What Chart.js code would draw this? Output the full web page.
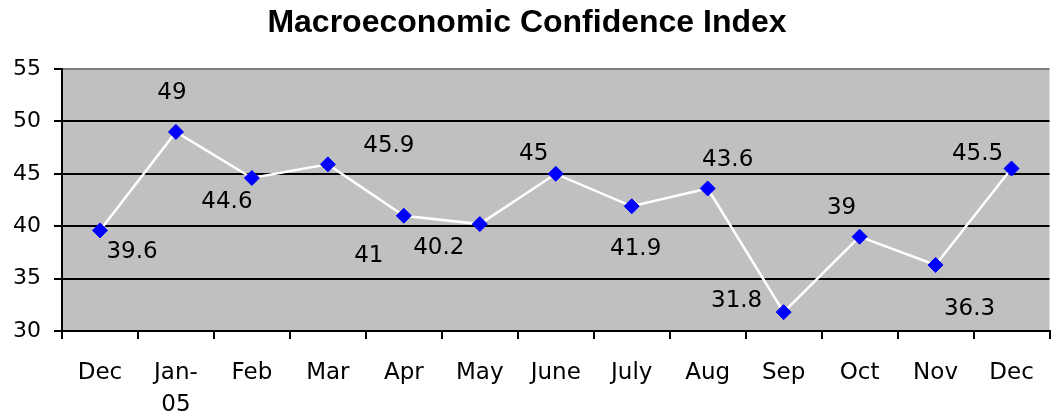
<!DOCTYPE html>
<html><head><meta charset="utf-8">
<script src="https://cdn.jsdelivr.net/npm/chart.js@4.4.0/dist/chart.umd.min.js"></script>
<style>html,body{margin:0;padding:0;background:#fff;overflow:hidden}#wrap{width:1051px;height:419px;overflow:hidden}</style>
</head><body><div id="wrap"><canvas id="c" width="1058" height="419"></canvas></div>
<script>
const chartTitle = 'Macroeconomic Confidence Index';
const categories = ['Dec', ['Jan-', '05'], 'Feb', 'Mar', 'Apr', 'May', 'June', 'July', 'Aug', 'Sep', 'Oct', 'Nov', 'Dec'];
const confidenceValues = [39.6, 49, 44.6, 45.9, 41, 40.2, 45, 41.9, 43.6, 31.8, 39, 36.3, 45.5];
const yMin = 30, yMax = 55, yStep = 5;
// pixel offsets of each hand-placed data label relative to its point
const labelOffsets = [[32,21],[-4,-40],[-25,23],[61,-19],[-35,39],[-41,23],[-22,-21],[4,42],[20,-29],[-47,-12],[-18,-30],[34,43],[-34,-16]];

const FONT = 'DejaVu Sans';

const bgPlugin = {
  id: 'bg',
  beforeDraw(chart) {
    const {ctx, chartArea: a} = chart;
    ctx.save();
    ctx.fillStyle = '#C0C0C0';
    ctx.fillRect(a.left, a.top, a.right - a.left, a.bottom - a.top);
    ctx.restore();
  },
  afterDraw(chart) {
    const ctx = chart.ctx;
    ctx.save();
    ctx.fillStyle = '#000';
    ctx.font = 'bold 32px "Liberation Sans", Arial, sans-serif';
    ctx.textAlign = 'center';
    ctx.textBaseline = 'alphabetic';
    ctx.fillText(chartTitle, 527, 32);
    const meta = chart.getDatasetMeta(0);
    ctx.font = '23px "' + FONT + '"';
    ctx.textBaseline = 'middle';
    meta.data.forEach((pt, i) => {
      const o = labelOffsets[i];
      ctx.fillText(String(confidenceValues[i]), pt.x + o[0], pt.y + o[1] + 1);
    });
    ctx.restore();
  }
};

new Chart(document.getElementById('c'), {
  type: 'line',
  data: {
    labels: categories,
    datasets: [{
      data: confidenceValues,
      borderColor: '#FFFFFF',
      borderWidth: 2.5,
      pointStyle: 'rectRot',
      pointRadius: 7.5,
      pointBackgroundColor: '#0000FF',
      pointBorderColor: '#0000FF',
      pointBorderWidth: 1,
      tension: 0,
      clip: 10
    }]
  },
  options: {
    responsive: false,
    animation: false,
    devicePixelRatio: 1,
    layout: {padding: {top: 69, left: 0, right: 0, bottom: 0}},
    plugins: {legend: {display: false}, tooltip: {enabled: false}, title: {display: false}},
    scales: {
      x: {
        type: 'category',
        offset: true,
        afterFit(s) { s.height = 88; },
        grid: {offset: true, drawOnChartArea: false, color: '#000', lineWidth: 2, tickLength: 8},
        border: {display: true, color: '#000', width: 2},
        ticks: {color: '#000', font: {family: FONT, size: 23, lineHeight: 1.38}, padding: 18, maxRotation: 0, autoSkip: false}
      },
      y: {
        min: yMin, max: yMax,
        afterFit(s) { s.width = 62; },
        grid: {color: c => (c.tick && c.tick.value === yMax) ? '#808080' : '#000', lineWidth: 2, tickLength: 8, tickColor: '#000'},
        border: {display: true, color: '#000', width: 2},
        ticks: {stepSize: yStep, color: '#000', font: {family: FONT, size: 22}, padding: 13}
      }
    }
  },
  plugins: [bgPlugin]
});
</script></body></html>
